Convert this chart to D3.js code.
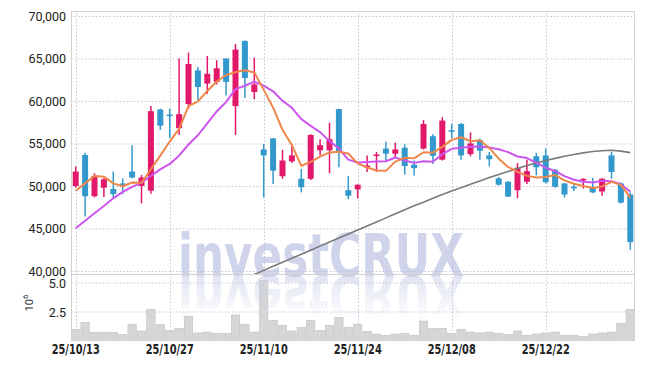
<!DOCTYPE html>
<html>
<head>
<meta charset="utf-8">
<script src="https://cdn.jsdelivr.net/npm/d3@7"></script>
<style>
  body { margin: 0; background: #fff; }
  svg { display: block; }
</style>
</head>
<body>
<div id="chart"></div>
<script>
// trading days shown (yy/mm/dd)
const dates = [
  "25/10/13","25/10/14","25/10/15","25/10/16","25/10/17","25/10/20","25/10/21","25/10/22","25/10/23","25/10/24",
  "25/10/27","25/10/28","25/10/29","25/10/30","25/10/31","25/11/03","25/11/04","25/11/05","25/11/06","25/11/07",
  "25/11/10","25/11/11","25/11/12","25/11/13","25/11/14","25/11/17","25/11/18","25/11/19","25/11/20","25/11/21",
  "25/11/24","25/11/25","25/11/26","25/11/27","25/11/28","25/12/01","25/12/02","25/12/03","25/12/04","25/12/05",
  "25/12/08","25/12/09","25/12/10","25/12/11","25/12/12","25/12/15","25/12/16","25/12/17","25/12/18","25/12/19",
  "25/12/22","25/12/23","25/12/24","25/12/26","25/12/29","25/12/30","26/01/02","26/01/05","26/01/06","26/01/07"
];
const dateTicks = ["25/10/13","25/10/27","25/11/10","25/11/24","25/12/08","25/12/22"];

const open = [
  50000,53650,48800,49800,49650,50300,51700,50000,49450,59000,
  58400,56800,59650,63600,62050,62250,65000,59400,67050,61050,
  54300,55600,51150,52900,50850,50850,54200,54200,59050,49500,
  49600,52200,53650,54400,53800,54500,52500,54400,55850,53100,
  56550,57300,53750,55400,53600,50900,50500,49500,50500,53500,
  53600,51900,50300,49900,50650,49850,49350,53600,50300,49000
];
const high = [
  52300,53900,51500,50900,51700,50900,54800,51300,59400,59100,
  59100,65000,65700,64000,65300,64800,65000,66700,67150,65100,
  54950,55650,54250,54900,52000,56100,55500,57450,59100,51200,
  50200,53600,54000,55200,55100,54900,53000,57750,56100,58100,
  57300,57400,56300,55600,54000,51050,50550,52700,53100,53900,
  54400,52000,50350,50250,50900,50950,50900,54000,50450,49250
];
const low = [
  49800,46400,48650,48700,48500,49050,50900,47950,49100,56600,
  55650,56000,59100,60100,60850,61950,60650,56000,60350,60200,
  48650,50250,50850,52700,49250,50700,53600,51500,52200,48450,
  48550,51650,51650,53000,53400,51350,51250,54300,52600,53000,
  55600,53100,53500,53100,52300,50050,48700,48550,50250,51250,
  50300,49800,48650,49400,49700,49150,48850,50850,47950,42500
];
const close = [
  51700,48800,51200,50800,49050,50000,51000,51000,58800,57100,
  58250,58450,64350,61650,63200,63850,62250,66050,62700,61950,
  53600,51800,53000,53600,49850,56000,54800,55500,54000,48850,
  50150,52400,53700,53800,54300,52350,52100,57300,53550,57700,
  56500,53600,55000,54150,53150,50150,48750,52150,51750,52200,
  50450,49900,49000,49800,50850,49250,50850,51650,48050,43400
];
// volume, millions of shares
const volume = [
  0.97,1.57,0.71,0.71,0.71,0.53,1.40,0.82,2.69,1.40,
  0.88,1.05,2.09,0.65,0.73,0.62,0.62,2.20,1.40,0.73,
  5.16,1.74,1.31,0.82,1.14,1.74,0.88,1.31,2.00,1.14,
  1.40,0.79,0.56,0.45,0.56,0.62,0.45,1.68,1.05,1.05,
  0.62,0.97,0.73,0.65,0.73,0.62,0.53,0.82,0.45,0.56,
  0.65,0.73,0.45,0.45,0.36,0.56,0.65,0.73,1.48,2.69
];
// moving averages as drawn
const ma5 = [
  49450,50310,51180,51100,50310,49970,50410,50370,51970,53580,
  55230,56720,59390,59960,61180,62300,63060,63400,63610,63360,
  61310,59220,56610,54790,52370,52850,53450,53950,54030,53830,
  52660,52180,51820,51780,52870,53310,53250,53970,53920,54600,
  55430,55730,55270,55390,54480,53210,52240,51670,51190,51000,
  51060,51290,50660,50270,50000,49760,49950,50480,50130,48640
];
const ma10 = [
  45020,45920,46790,47650,48550,49300,49900,50400,51200,51950,
  52600,53570,54880,55970,57380,58770,59890,61400,61790,62270,
  61810,61140,60010,59200,57870,57080,56340,55280,54410,53100,
  52760,52820,52890,52910,53350,52990,52720,52900,52850,53740,
  54370,54490,54620,54660,54540,54320,53990,53470,53290,52740,
  52140,51770,51170,50730,50500,50410,50620,50570,50200,49320
];
const ma60 = [
  null,null,null,null,null,null,null,null,null,null,
  null,null,null,null,null,null,null,null,null,39600,
  40075,40550,41025,41500,41975,42450,42925,43400,43875,44350,
  44825,45300,45775,46250,46725,47200,47675,48100,48550,49000,
  49400,49800,50200,50600,51000,51350,51700,52050,52400,52700,
  53000,53250,53500,53700,53900,54050,54150,54200,54100,53930
];
const priceTicks = [40000,45000,50000,55000,60000,65000,70000];
const volTicks = [2.5,5.0];

const W = 645, H = 368;
const pLeft = 71, pRight = 635, pTop = 11, pSplit = 274, pBottom = 340.5;
const upColor = "#e2186a", downColor = "#3398cc";
const gridColor = "#c3c5d8";
const axisFont = "Roboto, 'Liberation Sans', sans-serif";
const dateFont = "'Liberation Sans Narrow', 'DejaVu Sans Condensed', sans-serif";

const svg = d3.select("#chart").append("svg")
  .attr("width", W).attr("height", H);

const x = d3.scaleBand().domain(dates).range([pLeft, pRight]).padding(0);
const cx = d => x(d) + x.bandwidth() / 2;
const y = d3.scaleLinear().domain([40000, 70000]).range([271, 16]);
const yv = d3.scaleLinear().domain([0, 5]).range([pBottom, 282.5]);

const defs = svg.append("defs");
defs.append("clipPath").attr("id", "priceClip")
  .append("rect").attr("x", pLeft).attr("y", pTop).attr("width", pRight - pLeft).attr("height", pSplit - pTop);
const grad = defs.append("linearGradient").attr("id", "reflect")
  .attr("gradientUnits", "userSpaceOnUse").attr("x1", 0).attr("x2", 0).attr("y1", 276).attr("y2", 236);
grad.append("stop").attr("offset", 0).attr("stop-color", "#c4cbe4").attr("stop-opacity", 0.5);
grad.append("stop").attr("offset", 1).attr("stop-color", "#c4cbe4").attr("stop-opacity", 0.05);

// grid
svg.append("g").selectAll("line").data(priceTicks).join("line")
  .attr("x1", pLeft).attr("x2", pRight)
  .attr("y1", d => y(d) + 0.5).attr("y2", d => y(d) + 0.5)
  .attr("stroke", gridColor).attr("stroke-dasharray", "1.5,2");
svg.append("g").selectAll("line").data(volTicks).join("line")
  .attr("x1", pLeft).attr("x2", pRight)
  .attr("y1", d => yv(d) + 0.5).attr("y2", d => yv(d) + 0.5)
  .attr("stroke", gridColor).attr("stroke-dasharray", "1.5,2");
svg.append("g").selectAll("line").data(dateTicks).join("line")
  .attr("x1", d => Math.round(cx(d)) + 0.5).attr("x2", d => Math.round(cx(d)) + 0.5)
  .attr("y1", pTop).attr("y2", pBottom)
  .attr("stroke", gridColor).attr("stroke-dasharray", "1.5,2");

// volume bars
svg.append("g").selectAll("rect").data(dates).join("rect")
  .attr("x", d => x(d) + 0.5)
  .attr("width", x.bandwidth() - 1)
  .attr("y", (d, i) => yv(volume[i]))
  .attr("height", (d, i) => yv(0) - yv(volume[i]))
  .attr("fill", "#d6d6d6").attr("stroke", "#c2c2c2").attr("stroke-width", 0.6);

// watermark + reflection
const wm = svg.append("g");
wm.append("text").attr("x", 178).attr("y", 276)
  .attr("textLength", 286).attr("lengthAdjust", "spacingAndGlyphs")
  .style("font-family", dateFont).style("font-weight", "bold").style("font-size", "58px")
  .attr("fill", "#b8c0e0").attr("fill-opacity", 0.68)
  .text("investCRUX");
wm.append("g").attr("transform", "translate(0,552) scale(1,-1)")
  .append("text").attr("x", 178).attr("y", 276)
  .attr("textLength", 286).attr("lengthAdjust", "spacingAndGlyphs")
  .style("font-family", dateFont).style("font-weight", "bold").style("font-size", "58px")
  .attr("fill", "url(#reflect)")
  .text("investCRUX");

// candles
const plot = svg.append("g").attr("clip-path", "url(#priceClip)");
const candles = plot.append("g").selectAll("g").data(dates).join("g");
const colorOf = i => close[i] >= open[i] ? upColor : downColor;
candles.append("line")
  .attr("x1", d => cx(d)).attr("x2", d => cx(d))
  .attr("y1", (d, i) => y(high[i])).attr("y2", (d, i) => y(low[i]))
  .attr("stroke", (d, i) => colorOf(i)).attr("stroke-width", 1.5);
candles.append("rect")
  .attr("x", d => cx(d) - 3).attr("width", 6)
  .attr("y", (d, i) => y(Math.max(open[i], close[i])))
  .attr("height", (d, i) => Math.max(1.5, Math.abs(y(open[i]) - y(close[i]))))
  .attr("fill", (d, i) => colorOf(i));

// moving average lines
const maLine = arr => d3.line()
  .defined((d, i) => arr[i] != null)
  .x(d => cx(d))
  .y((d, i) => y(arr[i]));
[[ma60, "#7a7a7a", 1.6], [ma10, "#cc55ee", 2], [ma5, "#f0874a", 2]].forEach(([arr, col, w]) => {
  plot.append("path").datum(dates)
    .attr("fill", "none").attr("stroke", col).attr("stroke-width", w)
    .attr("stroke-linejoin", "round")
    .attr("d", maLine(arr));
});

// panel borders
svg.append("rect").attr("x", pLeft + 0.5).attr("y", pTop + 0.5)
  .attr("width", pRight - pLeft - 1).attr("height", pSplit - pTop)
  .attr("fill", "none").attr("stroke", "#d2d2d2");
svg.append("rect").attr("x", pLeft + 0.5).attr("y", pSplit + 0.5)
  .attr("width", pRight - pLeft - 1).attr("height", pBottom - pSplit - 0.5)
  .attr("fill", "none").attr("stroke", "#d2d2d2");

// axes
const yAxis = svg.append("g").attr("transform", `translate(${pLeft},0)`)
  .call(d3.axisLeft(y).tickValues(priceTicks).tickSize(0).tickPadding(5).tickFormat(d3.format(",")));
const vAxis = svg.append("g").attr("transform", `translate(${pLeft},0)`)
  .call(d3.axisLeft(yv).tickValues(volTicks).tickSize(0).tickPadding(5).tickFormat(d3.format(".1f")));
[yAxis, vAxis].forEach(g => {
  g.select(".domain").remove();
  g.selectAll("text").style("font-family", axisFont).style("font-size", "12.5px").attr("fill", "#222");
});
vAxis.selectAll("text").attr("dy", "0.42em");

const xAxis = svg.append("g").attr("transform", `translate(0,${pBottom})`)
  .call(d3.axisBottom(x).tickValues(dateTicks).tickSize(0).tickPadding(4));
xAxis.select(".domain").remove();
xAxis.selectAll("text")
  .style("font-family", dateFont).style("font-weight", "bold").style("font-size", "14px")
  .attr("textLength", 48).attr("lengthAdjust", "spacingAndGlyphs")
  .attr("fill", "#222");

// volume unit label
const unit = svg.append("text").attr("transform", "translate(33,303) rotate(-90)")
  .attr("text-anchor", "middle")
  .style("font-family", axisFont).style("font-size", "11px").attr("fill", "#333");
unit.append("tspan").text("10");
unit.append("tspan").attr("dy", -5).style("font-size", "8px").text("6");
</script>
</body>
</html>
